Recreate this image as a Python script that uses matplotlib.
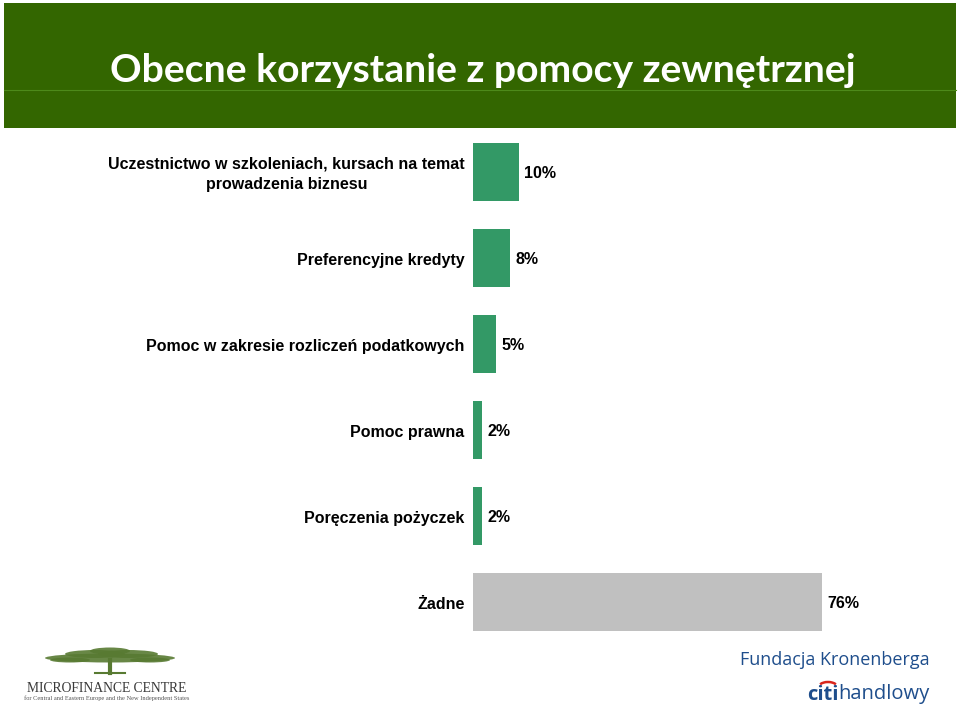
import matplotlib
matplotlib.use("Agg")
import matplotlib.pyplot as plt
from matplotlib.patches import Rectangle, Ellipse, Arc

categories = [
    "Uczestnictwo w szkoleniach, kursach na temat\nprowadzenia biznesu",
    "Preferencyjne kredyty",
    "Pomoc w zakresie rozliczeń podatkowych",
    "Pomoc prawna",
    "Poręczenia pożyczek",
    "Żadne",
]
values = [10, 8, 5, 2, 2, 76]
value_labels = ["10%", "8%", "5%", "2%", "2%", "76%"]
bar_colors = ["#339966", "#339966", "#339966", "#339966", "#339966", "#C0C0C0"]

W, H = 960, 706
fig = plt.figure(figsize=(W / 100, H / 100), dpi=100)
fig.patch.set_facecolor("white")

# header band
hdr = fig.add_axes([0, 0, 1, 1], zorder=0)
hdr.set_xlim(0, W)
hdr.set_ylim(H, 0)
hdr.axis("off")
hdr.add_patch(Rectangle((4, 3), 952, 125, facecolor="#336600", edgecolor="none"))
hdr.plot([4, 956], [90, 90], color="#4d8a1a", lw=0.8)
hdr.text(483, 71, "Obecne korzystanie z pomocy zewnętrznej", color="white",
         fontsize=28.2, fontweight="bold", family="Lato", ha="center", va="center")

# Microfinance Centre logo (simplified)
tree_c = "#587a32"
for (cx, cy, w, h) in [(110, 658, 130, 9), (95, 654, 60, 8), (128, 654, 60, 8),
                       (110, 651, 40, 7), (70, 660, 40, 5), (150, 660, 40, 5)]:
    hdr.add_patch(Ellipse((cx, cy), w, h, facecolor=tree_c, edgecolor="none", alpha=0.9))
hdr.plot([110, 110], [660, 673], color=tree_c, lw=3)
hdr.plot([95, 125], [673, 673], color=tree_c, lw=1.5)
hdr.text(107, 688, "MICROFINANCE CENTRE", family="Liberation Serif", fontsize=9.8,
         color="#3a3a3a", ha="center", va="center")
hdr.text(107, 698, "for Central and Eastern Europe and the New Independent States",
         family="Liberation Serif", fontsize=4.6, color="#555555", ha="center", va="center")

# Fundacja Kronenberga / citi handlowy
hdr.text(930, 660, "Fundacja Kronenberga", family="Open Sans", fontsize=13,
         color="#1f4e8c", ha="right", va="center")
hdr.text(930, 694, "handlowy", family="Open Sans", fontsize=14.5,
         color="#1f4e8c", ha="right", va="center")
hdr.text(838, 695, "citi", family="Open Sans", fontsize=14.5, fontweight="bold",
         color="#1f4e8c", ha="right", va="center")
hdr.add_patch(Arc((828, 688), 20, 12, theta1=205, theta2=335, color="#d9261c", lw=1.8))

# bar chart axes
left, right_px = 473, 822
top, bottom = 143, 631
ax = fig.add_axes([left / W, 1 - bottom / H, (right_px - left) / W, (bottom - top) / H], zorder=1)
ax.set_facecolor("none")
n = len(values)
hbar = 58 / 86
ypos = list(range(n))
ax.barh(ypos, values, height=hbar, color=bar_colors, edgecolor="none")
ax.set_xlim(0, 76)
ax.set_ylim(n - 1 + hbar / 2, -hbar / 2)
ax.axis("off")

for y, v, lab, cat in zip(ypos, values, value_labels, categories):
    ax.annotate(lab, xy=(v, y), xytext=(3.8, -0.8), textcoords="offset points",
                ha="left", va="center", fontsize=11.5, fontweight="bold",
                family="Liberation Sans", color="black")
    ax.annotate(cat, xy=(0, y), xytext=(-6, -1.5), textcoords="offset points",
                ha="right", va="center", fontsize=11.5, fontweight="bold",
                family="Liberation Sans", color="black", multialignment="center",
                linespacing=1.45)

fig.savefig("out.png", dpi=100)
